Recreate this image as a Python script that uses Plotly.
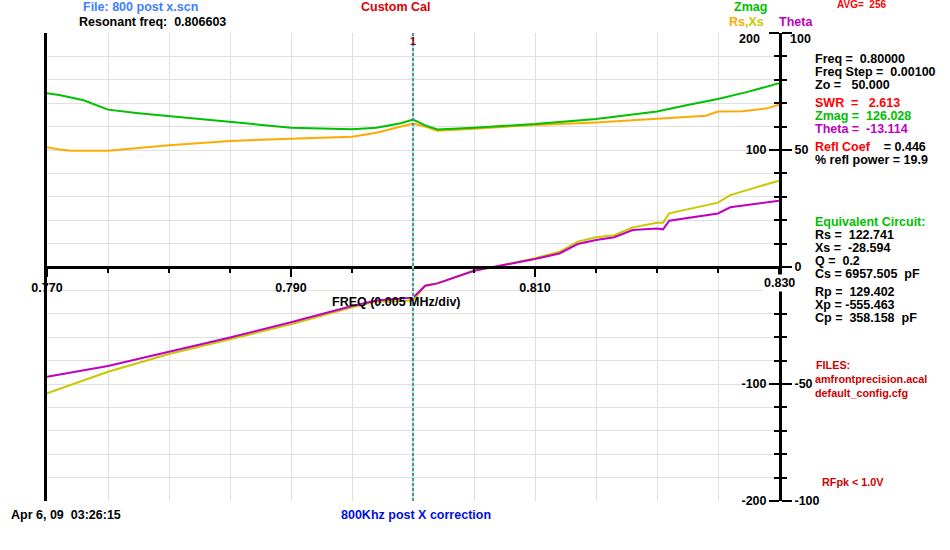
import plotly.graph_objects as go

# ---------------- data ----------------
freq_zmag = [0.770, 0.771, 0.773, 0.775, 0.7775, 0.780, 0.785, 0.790, 0.795, 0.797, 0.799, 0.800,
             0.801, 0.802, 0.805, 0.810, 0.815, 0.8175, 0.820, 0.8225, 0.825, 0.8275, 0.830]
zmag = [148.5, 147.0, 142.5, 134.5, 131.5, 129.0, 123.6, 119.1, 117.7, 119.1, 122.8, 126.0,
        121.0, 117.6, 119.1, 122.2, 126.5, 129.6, 133.0, 138.5, 143.6, 149.9, 157.0]

freq_rs = [0.770, 0.771, 0.772, 0.775, 0.780, 0.785, 0.790, 0.795, 0.797, 0.799, 0.800, 0.801,
           0.802, 0.805, 0.810, 0.815, 0.820, 0.824, 0.825, 0.827, 0.829, 0.830]
rs = [102.3, 100.5, 99.4, 99.4, 104.0, 107.7, 109.7, 111.4, 114.8, 120.0, 122.7, 120.0,
      116.5, 118.2, 121.4, 123.6, 127.0, 129.3, 132.8, 133.1, 135.6, 138.7]

freq_x = [0.770, 0.775, 0.780, 0.785, 0.790, 0.795, 0.797, 0.799, 0.800, 0.801, 0.802, 0.805,
          0.8066, 0.810, 0.812, 0.8135, 0.815, 0.8165, 0.818, 0.820, 0.8205, 0.821, 0.825, 0.826, 0.830]
xs = [-108.0, -89.5, -74.4, -61.5, -49.0, -34.5, -29.6, -29.1, -28.6, -16.0, -14.0, -3.2,
      0.0, 7.5, 13.0, 21.6, 25.4, 27.1, 33.9, 37.9, 37.9, 45.9, 55.0, 61.5, 73.8]
theta = [-46.9, -42.3, -36.2, -30.1, -23.6, -16.7, -14.3, -13.6, -13.1, -8.0, -7.0, -1.6,
         0.0, 3.4, 5.8, 9.8, 11.5, 12.7, 15.8, 16.5, 16.1, 19.8, 22.9, 25.5, 28.3]

x_major_ticks = [0.770, 0.790, 0.810, 0.830]
x_major_labels = ["0.770", "0.790", "0.810", ""]
last_x_label = "0.830"
left_ticks = [200, 100, -100, -200]
left_labels = ["", "100", "-100", "-200"]
top_left_label = "200"
theta_ticks = [100, 50, 0, -50, -100]
theta_labels = ["", "50", "0", "-50", "-100"]
top_theta_label = "100"
marker_freq = 0.800

# ---------------- styling ----------------
W, H = 950, 550
FONT = "Liberation Sans, Arial, sans-serif"
X0, X1 = 47 / W, 779 / W
Y0, Y1 = 1 - 501 / H, 1 - 33 / H
ZERO_POS = (Y0 + Y1) / 2

C_Z = "#00c000"
C_RS = "#ffaa00"
C_XS = "#c8c800"
C_TH = "#c000c0"

fig = go.Figure()
fig.add_trace(go.Scatter(x=freq_rs, y=rs, mode="lines", line=dict(color=C_RS, width=2),
                         xaxis="x", yaxis="y", name="Rs"))
fig.add_trace(go.Scatter(x=freq_zmag, y=zmag, mode="lines", line=dict(color=C_Z, width=2),
                         xaxis="x", yaxis="y", name="Zmag"))
fig.add_trace(go.Scatter(x=freq_x, y=xs, mode="lines", line=dict(color=C_XS, width=2),
                         xaxis="x", yaxis="y2", name="Xs"))
fig.add_trace(go.Scatter(x=freq_x, y=theta, mode="lines", line=dict(color=C_TH, width=2),
                         xaxis="x", yaxis="y3", name="Theta"))

tickfont = dict(family=FONT, size=12.5, color="black", weight="bold")

fig.update_layout(
    width=W, height=H, autosize=False,
    margin=dict(l=0, r=0, t=0, b=0, pad=0, autoexpand=False),
    paper_bgcolor="white", plot_bgcolor="white",
    showlegend=False,
    xaxis=dict(domain=[X0, X1], range=[0.770, 0.830], anchor="free", position=ZERO_POS,
               automargin=False,
               showgrid=True, gridcolor="#e0e0e0", gridwidth=1,
               tickmode="array", tickvals=x_major_ticks, ticktext=x_major_labels,
               ticks="outside", ticklen=8, tickwidth=2, tickcolor="black",
               minor=dict(tickmode="linear", tick0=0.770, dtick=0.005, ticks="outside",
                          ticklen=4, tickwidth=2, tickcolor="black",
                          showgrid=True, gridcolor="#e0e0e0", gridwidth=1),
               showline=True, linecolor="black", linewidth=3, zeroline=False,
               tickfont=tickfont),
    yaxis=dict(domain=[Y0, Y1], range=[-200, 200], anchor="x", automargin=False,
               tickmode="linear", tick0=-200, dtick=20, showticklabels=False, ticks="",
               showgrid=True, gridcolor="#e0e0e0", gridwidth=1, zeroline=False,
               showline=True, linecolor="black", linewidth=3),
    yaxis2=dict(overlaying="y", range=[-200, 200], anchor="free", position=X1, side="left",
                automargin=False,
                tickmode="array", tickvals=left_ticks, ticktext=left_labels,
                ticks="outside", ticklen=10, tickwidth=2, tickcolor="black",
                minor=dict(tickmode="linear", tick0=-200, dtick=20, ticks="outside",
                           ticklen=5, tickwidth=2, tickcolor="black"),
                showgrid=False, zeroline=False, showline=False, tickfont=tickfont),
    yaxis3=dict(overlaying="y", range=[-100, 100], anchor="x", side="right",
                automargin=False,
                tickmode="array", tickvals=theta_ticks, ticktext=theta_labels,
                ticks="outside", ticklen=10, tickwidth=2, tickcolor="black",
                minor=dict(tickmode="linear", tick0=-100, dtick=10, ticks="outside",
                           ticklen=5, tickwidth=2, tickcolor="black"),
                showgrid=False, zeroline=False,
                showline=True, linecolor="black", linewidth=3, tickfont=tickfont),
)

# marker line
fig.add_shape(type="line", xref="x", yref="paper", x0=marker_freq, x1=marker_freq,
              y0=Y0, y1=Y1, line=dict(color="#80ffff", width=2))
fig.add_shape(type="line", xref="x", yref="paper", x0=marker_freq, x1=marker_freq,
              y0=Y0, y1=Y1, line=dict(color="#800000", width=1, dash="3px,2px"))


def txt(x, y, s, color="black", size=12.5, anchor="left", bg=None):
    fig.add_annotation(xref="paper", yref="paper", x=x / W, y=1 - y / H, text=s,
                       showarrow=False, xanchor=anchor, yanchor="middle",
                       bgcolor=bg, borderpad=0,
                       font=dict(family=FONT, size=size, color=color, weight="bold"))


RED = "#ff0000"
DRED = "#cc0000"

# last x tick label sits on a white patch over the right axis
fig.add_annotation(xref="x", yref="paper", x=x_major_ticks[-1], y=1 - 283 / H,
                   text=last_x_label, showarrow=False, xanchor="center", yanchor="middle",
                   bgcolor="white", borderpad=1,
                   font=dict(family=FONT, size=12.5, color="black", weight="bold"))
# top axis labels are nudged down inside the frame
txt(761, 39, top_left_label, "black", 12.5, "right")
txt(789, 39, top_theta_label, "black", 12.5, "left")

txt(413, 41, "1", "#a00000", 11, "center")
txt(82, 7, "File: 800 post x.scn", "#4080ff")
txt(78, 22, "Resonant freq:  0.806603")
txt(395, 7, "Custom Cal", "#e00000", 12.5, "center")
txt(750, 7, "Zmag", C_Z, 12.5, "center")
txt(836, 5, "AVG=  256", RED, 10)
txt(746, 22, f"<span style='color:{C_RS}'>Rs</span><span style='color:{C_XS}'>,Xs</span>",
    C_RS, 12.5, "center")
txt(796, 22, "Theta", C_TH, 12.5, "center")

xl = 814
txt(xl, 59, "Freq =  0.80000")
txt(xl, 72, "Freq Step =  0.00100")
txt(xl, 85, "Zo =   50.000")
txt(xl, 103, "SWR  =   2.613", RED)
txt(xl, 116, "Zmag =  126.028", C_Z)
txt(xl, 129, "Theta =  -13.114", C_TH)
txt(xl, 147, f"<span style='color:{RED}'>Refl Coef</span>    = 0.446")
txt(xl, 160, "% refl power = 19.9")
txt(xl, 222, "Equivalent Circuit:", C_Z)
txt(xl, 235, "Rs =  122.741")
txt(xl, 248, "Xs =  -28.594")
txt(xl, 261, "Q =  0.2")
txt(xl, 274, "Cs = 6957.505  pF")
txt(xl, 292, "Rp =  129.402")
txt(xl, 305, "Xp = -555.463")
txt(xl, 318, "Cp =  358.158  pF")
txt(815, 365, "FILES:", DRED, 10.8)
txt(xl, 379, "amfrontprecision.acal", DRED, 10.8)
txt(xl, 393, "default_config.cfg", DRED, 10.8)
txt(821, 482, "RFpk < 1.0V", DRED, 10.8)

txt(396, 302, "FREQ (0.005 MHz/div)", "black", 12.5, "center")
txt(10, 515, "Apr 6, 09  03:26:15")
txt(340, 515, "800Khz post X correction", "#0010e0")

fig.write_html("out.html", config={"displayModeBar": False},
               post_script="document.body.style.margin='0';")
